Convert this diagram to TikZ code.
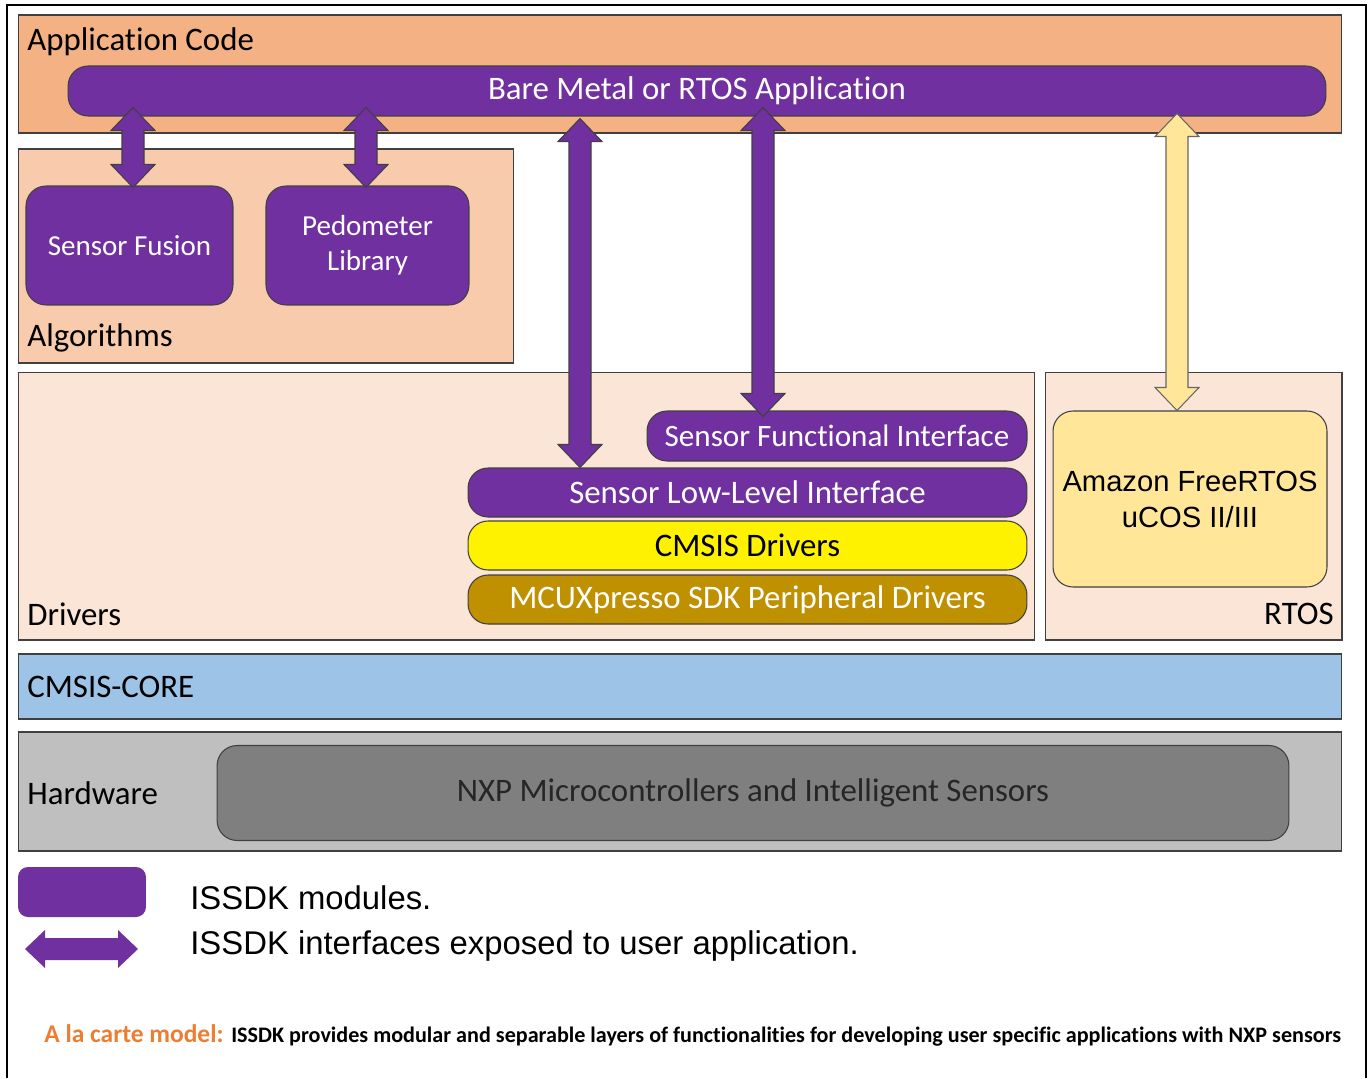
\documentclass[tikz,border=0pt]{standalone}
\usepackage{fontspec}
\setmainfont{Carlito}[Ligatures=NoCommon]
\newfontfamily\arialfont{Liberation Sans}
\usetikzlibrary{calc,positioning}
\definecolor{appcol}{HTML}{F4B183}
\definecolor{algcol}{HTML}{F8CBAD}
\definecolor{drvcol}{HTML}{FBE5D6}
\definecolor{issdk}{HTML}{7030A0}
\definecolor{rtoscol}{HTML}{FFE699}
\definecolor{mcuxcol}{HTML}{BF9000}
\definecolor{corecol}{HTML}{9DC3E6}
\definecolor{hwcol}{HTML}{BFBFBF}
\definecolor{chipcol}{HTML}{7F7F7F}
\definecolor{edge}{HTML}{404040}
\definecolor{accent}{HTML}{ED7D31}
\newcommand\fsz[2]{\fontsize{#1}{#2}\selectfont}
% vertical block arrow with two heads: style, top tip, bottom tip
\newcommand\updown[3]{\draw[#1] (#2) -- ++(22,23) -- ++(-11,0) -- ($(#3)+(11,-23)$) -- ++(11,0) -- (#3) -- ++(-22,-23) -- ++(11,0) -- ($(#2)+(-11,23)$) -- ++(-11,0) -- cycle;}
\begin{document}
\begin{tikzpicture}[x=0.02cm,y=-0.02cm]
\tikzstyle{layer} = [rectangle, draw=edge, line width=0.6pt, inner sep=0pt]
\tikzstyle{module} = [rectangle, rounded corners=0.4cm, draw=edge, line width=0.6pt, fill=issdk, text=white, inner sep=0pt, align=center, font=\fsz{18.7}{22}]
\tikzstyle{tag} = [inner sep=0pt, font=\fsz{18.7}{22}]
\tikzstyle{iface} = [draw=edge, line width=0.6pt, fill=issdk]
\useasboundingbox (0,0) rectangle (1368,1078);
\draw[line width=1.2pt] (7,1078) -- (7,5) -- (1366,5) -- (1366,1078);

% layers
\node (app) [layer, fill=appcol, minimum width=26.48cm, minimum height=2.36cm] at (680,74) {};
\node (alg) [layer, fill=algcol, minimum width=9.92cm, minimum height=4.28cm] at (266,256) {};
\node (drv) [layer, fill=drvcol, minimum width=20.34cm, minimum height=5.36cm] at (526.5,506) {};
\node (rtos) [layer, fill=drvcol, minimum width=5.94cm, minimum height=5.36cm] at (1193.5,506) {};
\node (core) [layer, fill=corecol, minimum width=26.48cm, minimum height=1.3cm] at (680,686.5) {};
\node (hw) [layer, fill=hwcol, minimum width=26.48cm, minimum height=2.38cm] at (680,791.5) {};

\node (applbl) [tag, anchor=west] at (27,42) {Application Code};
\node (alglbl) [tag, anchor=west] at (27,338) {Algorithms};
\node (drvlbl) [tag, anchor=west] at (27,614) {Drivers};
\node (rtoslbl) [tag, anchor=east] at (1334,614) {RTOS};
\node (corelbl) [tag, anchor=west] at (27,687) {CMSIS-CORE};
\node (hwlbl) [tag, anchor=west] at (27,793) {Hardware};

% modules
\node (bare) [module, minimum width=25.16cm, minimum height=1cm] at (697,91) {Bare Metal or RTOS Application};
\node (fusion) [module, font=\fsz{16.5}{20}, minimum width=4.14cm, minimum height=2.38cm] at (129.5,245.5) {Sensor Fusion};
\node (pedo) [module, font=\fsz{16.5}{20}, minimum width=4.06cm, minimum height=2.38cm] at (367.5,245.5) {Pedometer\\Library};
\node (sfi) [module, font=\fsz{17.7}{21}, minimum width=7.6cm, minimum height=1cm] at (837,436) {Sensor Functional Interface};
\node (sli) [module, minimum width=11.18cm, minimum height=0.98cm] at (747.5,492.5) {Sensor Low-Level Interface};
\node (cmsisd) [module, fill=yellow, text=black, minimum width=11.18cm, minimum height=0.98cm] at (747.5,545.5) {CMSIS Drivers};
\node (mcux) [module, fill=mcuxcol, minimum width=11.18cm, minimum height=0.98cm] at (747.5,599.5) {MCUXpresso SDK Peripheral Drivers};
\node (os) [module, fill=rtoscol, text=black, font=\arialfont\fsz{16.6}{20.5}, minimum width=5.48cm, minimum height=3.52cm] at (1190,499) {Amazon FreeRTOS\\uCOS II/III};
\node (nxp) [module, fill=chipcol, text=black!85, minimum width=21.44cm, minimum height=1.9cm] at (753,793) {NXP Microcontrollers and Intelligent Sensors};

% interfaces
\coordinate (a1t) at ($(bare.south -| 133,0)+(0,-9)$);
\coordinate (a1b) at ($(fusion.north -| 133,0)+(0,2)$);
\coordinate (a2t) at ($(bare.south -| 366,0)+(0,-9)$);
\coordinate (a2b) at ($(pedo.north -| 366,0)+(0,2)$);
\coordinate (a3t) at ($(bare.south -| 580,0)+(0,2)$);
\coordinate (a3b) at (sli.north -| 580,0);
\coordinate (a4t) at ($(bare.south -| 763,0)+(0,-9)$);
\coordinate (a4b) at ($(sfi.north -| 763,0)+(0,6)$);
\coordinate (a5t) at ($(bare.south -| 1177,0)+(0,-3)$);
\coordinate (a5b) at (os.north -| 1177,0);
\updown{iface}{a1t}{a1b}
\updown{iface}{a2t}{a2b}
\updown{iface}{a3t}{a3b}
\updown{iface}{a4t}{a4b}
\updown{iface, fill=rtoscol, draw=black!60}{a5t}{a5b}

% legend
\node (legbox) [module, draw=none, minimum width=2.56cm, minimum height=1cm, rounded corners=0.2cm] at (82,892) {};
\coordinate (lgl) at (25,949);
\coordinate (lgr) at (138,949);
\fill[issdk] (lgl) -- ++(20,-19) -- ++(0,8) -- ($(lgr)+(-20,-11)$) -- ++(0,-8) -- (lgr) -- ++(-20,19) -- ++(0,-8) -- ($(lgl)+(20,11)$) -- ++(0,8) -- cycle;
\node (legmod) [anchor=west, inner sep=0pt, font=\arialfont\fsz{18.7}{22}] at (190,898) {ISSDK modules.};
\node (legif) [anchor=west, inner sep=0pt, font=\arialfont\fsz{18.7}{22}] at (190,946) {ISSDK interfaces exposed to user application.};

\node (note) [anchor=west, inner sep=0pt, font=\bfseries] at (44,1035) {\fsz{14.5}{16}\color{accent}A la carte model: {\fsz{12.6}{14}\color{black}ISSDK provides modular and separable layers of functionalities for developing user specific applications with NXP sensors}};
\end{tikzpicture}
\end{document}
